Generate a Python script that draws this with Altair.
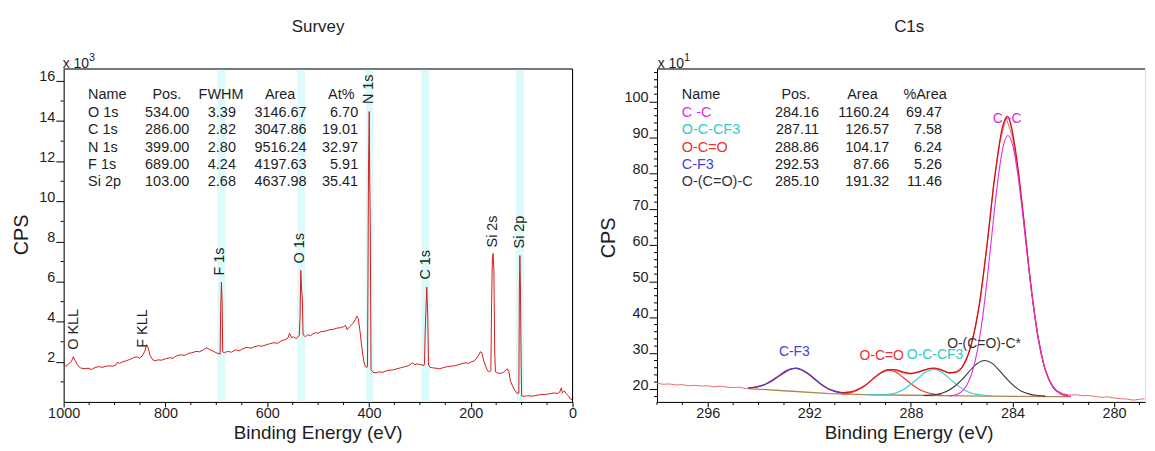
import altair as alt
import pandas as pd

FONT = "Liberation Sans"
TXT = "#1e1e1e"
W1, W2, H = 512, 491, 335

# ---------------- Survey spectrum (CPS x 10^3) ----------------
survey_be = [
    1000, 995, 990, 985, 981, 977, 972, 967, 960, 952,
    945, 938, 930, 924, 917, 910, 903, 897, 894, 890,
    884, 877, 870, 863, 857, 851, 846, 841, 837, 834,
    830, 825, 820, 814, 808, 800, 792, 785, 778, 770,
    762, 755, 748, 740, 733, 725, 719, 714, 708, 700,
    694, 692.5, 691.5, 690, 688.5, 687.5, 684, 678, 670, 662,
    655, 648, 640, 632, 625, 617, 610, 602, 595, 587,
    580, 572, 565, 559, 556, 552, 548, 543, 539, 537,
    535.5, 534, 532.5, 531, 529.5, 525, 520, 515, 510, 505,
    500, 495, 489, 483, 477, 470, 463, 456, 450, 446,
    443, 438, 432, 427, 424, 421, 418, 414, 410, 407,
    404, 403, 402, 401, 399.5, 398.5, 397.5, 396, 392, 386,
    380, 373, 366, 360, 352, 345, 338, 330, 323, 317,
    314, 310, 305, 298, 292, 291, 289.5, 286.5, 284.5, 283,
    280, 275, 268, 262, 255, 248, 240, 232, 225, 218,
    211, 204, 199, 193, 188, 184, 181, 178, 175, 171,
    167, 163, 160.5, 159, 157.5, 156, 154.5, 153, 151.5, 148,
    143, 138, 134, 131, 128, 125, 122, 118, 114, 110,
    106, 105.5, 104.5, 103.5, 102.5, 101, 100, 96, 90, 84,
    78, 72, 66, 60, 54, 48, 42, 36, 30, 25,
    22, 20, 16, 12, 8, 4, 0,
]
survey_cps = [
    1.85, 1.78, 1.90, 2.00, 2.25, 2.05, 1.80, 1.70, 1.65, 1.68,
    1.62, 1.72, 1.76, 1.72, 1.78, 1.80, 1.78, 1.85, 1.98, 1.92,
    2.00, 2.05, 2.12, 2.20, 2.25, 2.18, 2.28, 2.50, 2.85, 2.70,
    2.30, 2.10, 2.05, 2.10, 2.08, 2.15, 2.20, 2.18, 2.30, 2.35,
    2.32, 2.42, 2.45, 2.52, 2.50, 2.60, 2.70, 2.62, 2.55, 2.45,
    2.40, 2.38, 4.55, 5.97, 4.90, 2.50, 2.45, 2.52, 2.48, 2.60,
    2.55, 2.65, 2.72, 2.68, 2.75, 2.80, 2.78, 2.85, 2.90, 2.95,
    2.92, 3.05, 3.10, 3.20, 3.42, 3.20, 3.25, 3.15, 3.28, 3.30,
    4.20, 6.56, 5.60, 5.20, 3.35, 3.25, 3.35, 3.30, 3.40, 3.45,
    3.42, 3.50, 3.52, 3.55, 3.60, 3.62, 3.68, 3.70, 3.75, 3.82,
    3.60, 3.75, 3.90, 4.10, 4.28, 4.15, 3.60, 2.70, 2.00, 1.75,
    1.72, 1.75, 5.90, 11.45, 14.48, 11.00, 9.00, 1.60, 1.48, 1.45,
    1.50, 1.48, 1.55, 1.58, 1.60, 1.65, 1.70, 1.75, 1.80, 1.90,
    1.95, 1.85, 1.90, 1.85, 1.82, 1.90, 3.50, 5.72, 4.30, 1.85,
    1.72, 1.70, 1.68, 1.65, 1.70, 1.75, 1.78, 1.80, 1.85, 1.90,
    1.95, 1.92, 2.00, 2.05, 2.20, 2.35, 2.50, 2.45, 2.10, 1.80,
    1.55, 1.50, 1.55, 5.00, 7.20, 7.40, 6.50, 2.60, 1.50, 1.45,
    1.42, 1.45, 1.50, 1.60, 1.65, 1.50, 1.05, 0.80, 0.60, 0.45,
    0.42, 0.50, 5.50, 7.30, 6.00, 2.00, 0.30, 0.28, 0.30, 0.30,
    0.29, 0.32, 0.35, 0.38, 0.36, 0.40, 0.42, 0.45, 0.42, 0.50,
    0.70, 0.45, 0.55, 0.40, 0.30, 0.15, 0.10,
]

band_lo = [682, 526, 391.5, 281, 95.5]
band_hi = [698, 541, 406, 297, 111.5]

survey_peak_names = ["O KLL", "F KLL", "F 1s", "O 1s", "N 1s", "C 1s", "Si 2s", "Si 2p"]
survey_peak_be = [980, 845, 692.6, 536, 400, 288, 156, 103]
survey_peak_cps = [2.6, 2.7, 6.3, 6.9, 14.85, 6.1, 7.7, 7.65]

survey_tbl_name = ["O 1s", "C 1s", "N 1s", "F 1s", "Si 2p"]
survey_tbl_pos = [534.00, 286.00, 399.00, 689.00, 103.00]
survey_tbl_fwhm = [3.39, 2.82, 2.80, 4.24, 2.68]
survey_tbl_area = [3146.67, 3047.86, 9516.24, 4197.63, 4637.98]
survey_tbl_at = [6.70, 19.01, 32.97, 5.91, 35.41]

survey_x_ticks = [1000, 800, 600, 400, 200, 0]
survey_x_minor = [950, 900, 850, 750, 700, 650, 550, 500, 450, 350, 300, 250, 150, 100, 50]
survey_y_ticks = [2, 4, 6, 8, 10, 12, 14, 16]
survey_y_minor = [1, 3, 5, 7, 9, 11, 13, 15]

# ---------------- C1s high-resolution spectrum (CPS x 10^1) ----------------
raw_be = [
    298.0, 297.75, 297.5, 297.25, 297.0, 296.75, 296.5, 296.25, 296.0, 295.75,
    295.5, 295.25, 295.0, 294.75, 294.5, 294.25, 294.0, 293.75, 293.5, 293.25,
    293.0, 292.75, 292.5, 292.25, 292.0, 291.75, 291.5, 291.25, 291.0, 290.75,
    290.5, 290.25, 290.0, 289.75, 289.5, 289.25, 289.0, 288.75, 288.5, 288.25,
    288.0, 287.75, 287.5, 287.25, 287.0, 286.75, 286.5, 286.25, 286.0, 285.75,
    285.5, 285.25, 285.0, 284.75, 284.5, 284.25, 284.0, 283.75, 283.5, 283.25,
    283.0, 282.75, 282.5, 282.25, 282.0, 281.75, 281.5, 281.25, 281.0, 280.75,
    280.5, 280.25, 280.0, 279.75, 279.5, 279.25, 279.0, 278.8,
]
raw_cps = [
    21.7, 21.4, 21.5, 21.2, 21.3, 21.0, 21.1, 20.9, 21.0, 20.7,
    20.9, 20.6, 20.5, 20.6, 20.2, 20.5, 20.9, 21.3, 22.1, 23.3,
    24.4, 25.5, 25.9, 25.2, 24.2, 22.6, 21.3, 20.0, 19.3, 19.0,
    19.2, 19.5, 20.3, 21.4, 22.8, 24.3, 25.1, 25.6, 25.0, 24.5,
    24.2, 24.9, 25.2, 25.8, 25.6, 25.2, 24.5, 24.9, 26.0, 29.5,
    36.0, 45.5, 60.0, 76.5, 88.5, 95.5, 90.0, 79.8, 64.0, 47.0,
    35.0, 26.2, 21.8, 19.6, 18.8, 18.4, 18.5, 18.2, 18.3, 18.0,
    17.8, 17.9, 17.6, 17.4, 17.3, 17.0, 17.2, 17.4,
]

env_be = [
    294.4, 294.0, 293.6, 293.2, 292.8, 292.53, 292.2, 291.9, 291.6, 291.3,
    291.0, 290.7, 290.4, 290.1, 289.8, 289.5, 289.2, 288.9, 288.6, 288.3,
    288.0, 287.7, 287.4, 287.1, 286.8, 286.5, 286.2, 285.9, 285.6, 285.3,
    285.0, 284.7, 284.4, 284.2, 283.9, 283.6, 283.3, 283.0, 282.7, 282.4,
    282.1, 281.8,
]
env_cps = [
    20.4, 20.75, 21.9, 23.7, 25.45, 25.8, 25.0, 23.45, 21.7, 20.3,
    19.5, 19.1, 19.2, 19.9, 21.1, 22.9, 24.5, 25.45, 25.4, 24.8,
    24.45, 24.8, 25.55, 25.9, 25.4, 24.6, 24.8, 27.1, 33.0, 43.9,
    60.3, 78.9, 92.6, 95.8, 87.3, 70.0, 50.4, 34.8, 25.25, 20.55,
    18.75, 18.2,
]

bg_be = [294.4, 293.0, 291.2, 289.8, 288.0, 286.0, 284.0, 282.6, 281.7]
bg_cps = [20.2, 19.6, 18.8, 18.5, 18.35, 18.2, 18.05, 18.0, 17.95]

cf3_be = [294.4, 294.1, 293.8, 293.5, 293.2, 292.9, 292.53, 292.2, 291.9, 291.6, 291.3, 291.0, 290.7]
cf3_cps = [20.4, 20.6, 21.2, 22.3, 23.8, 25.2, 25.9, 25.1, 23.6, 21.8, 20.4, 19.5, 18.96]

oco_be = [290.7, 290.4, 290.1, 289.8, 289.5, 289.2, 288.86, 288.6, 288.3, 288.0, 287.7, 287.4, 287.1, 286.8]
oco_cps = [18.67, 19.0, 19.8, 21.1, 22.9, 24.5, 25.3, 24.8, 23.3, 21.55, 20.1, 19.2, 18.7, 18.5]

occf3_be = [289.8, 289.2, 288.9, 288.6, 288.3, 288.0, 287.7, 287.4, 287.11, 286.8,
            286.5, 286.2, 285.9, 285.6, 285.3, 285.0, 284.8]
occf3_cps = [18.5, 18.45, 18.6, 19.0, 19.9, 21.4, 23.2, 24.9, 25.5, 24.8,
             23.1, 21.3, 19.8, 18.9, 18.5, 18.3, 18.2]

ococ_be = [287.5, 287.2, 286.9, 286.6, 286.3, 286.0, 285.7, 285.4, 285.1, 284.8,
           284.5, 284.2, 283.9, 283.6, 283.3, 283.0, 282.7]
ococ_cps = [18.3, 18.4, 18.7, 19.4, 20.7, 22.6, 25.0, 27.1, 28.0, 27.2,
            25.1, 22.7, 20.7, 19.3, 18.6, 18.3, 18.1]

cc_be = [286.48, 286.18, 285.98, 285.78, 285.58, 285.38, 285.18, 284.98, 284.78, 284.58,
         284.38, 284.18, 283.98, 283.78, 283.58, 283.38, 283.18, 282.98, 282.78, 282.58,
         282.38, 282.18, 281.98, 281.7]
cc_cps = [18.1, 18.6, 19.5, 21.4, 24.9, 30.9, 39.8, 51.6, 65.1, 77.8,
          87.1, 90.5, 87.5, 79.2, 67.6, 54.9, 43.2, 33.9, 27.2, 22.9,
          20.4, 19.1, 18.45, 18.05]

C_CC, C_CY, C_RD, C_BL, C_BK = "#e02ee0", "#2ccccc", "#ee3030", "#4444e0", "#333333"

c1s_peak_names = ["C -C", "O-C-CF3", "O-C=O", "C-F3", "O-(C=O)-C*"]
c1s_peak_be = [284.21, 287.05, 289.15, 292.59, 285.12]
c1s_peak_cps = [95.0, 29.4, 29.2, 30.4, 32.5]
c1s_peak_colors = [C_CC, C_CY, C_RD, C_BL, C_BK]

c1s_tbl_name = ["C -C", "O-C-CF3", "O-C=O", "C-F3", "O-(C=O)-C"]
c1s_tbl_pos = [284.16, 287.11, 288.86, 292.53, 285.10]
c1s_tbl_area = [1160.24, 126.57, 104.17, 87.66, 191.32]
c1s_tbl_pct = [69.47, 7.58, 6.24, 5.26, 11.46]
c1s_tbl_colors = [C_CC, C_CY, C_RD, C_BL, C_BK]

c1s_x_ticks = [296, 292, 288, 284, 280]
c1s_x_minor = [298, 297, 295, 294, 293, 291, 290, 289, 287, 286, 285, 283, 282, 281, 279]
c1s_y_ticks = [20, 30, 40, 50, 60, 70, 80, 90, 100]
c1s_y_minor = [18, 22, 24, 26, 28, 32, 34, 36, 38, 42, 44, 46, 48, 52, 54, 56, 58,
               62, 64, 66, 68, 72, 74, 76, 78, 82, 84, 86, 88, 92, 94, 96, 98,
               102, 104, 106, 108]


# ---------------- helpers ----------------
def single():
    return pd.DataFrame({"k": [0]})


def txt(text, x, y, size=14.5, align="left", baseline="alphabetic", color=TXT,
        angle=None, line_height=None):
    props = dict(text=text, align=align, baseline=baseline, fontSize=size,
                 font=FONT, color=color)
    if angle is not None:
        props["angle"] = angle
    if line_height is not None:
        props["lineHeight"] = line_height
    return alt.Chart(single()).mark_text(**props).encode(x=alt.value(x), y=alt.value(y))


def axis_x(values):
    return alt.Axis(values=values, title=None, grid=False, tickSize=5, labelPadding=0,
                    labelFont=FONT, labelFontSize=14.5, labelColor=TXT, labelFlush=False,
                    labelOverlap=False, domainColor="black", tickColor="black",
                    domainWidth=1, format="d")


def axis_y(values):
    return alt.Axis(values=values, title=None, grid=False, tickSize=8, labelPadding=1,
                    labelBaseline="alphabetic", labelFont=FONT, labelFontSize=14.5,
                    labelColor=TXT, labelFlush=False, labelOverlap=False,
                    domainColor="black", tickColor="black", domainWidth=1, format="d")


def line(be, cps, sx, sy, ax, ay, color, width=1.0, interp="linear"):
    df = pd.DataFrame({"be": be, "cps": cps})
    return alt.Chart(df).mark_line(color=color, strokeWidth=width, interpolate=interp).encode(
        x=alt.X("be:Q", scale=sx, axis=ax),
        y=alt.Y("cps:Q", scale=sy, axis=ay),
    )


def minor_ticks(xv, yv, sx, sy, ax, ay):
    mx = alt.Chart(pd.DataFrame({"v": xv})).mark_rule(color="black", strokeWidth=1).encode(
        x=alt.X("v:Q", scale=sx, axis=ax), y=alt.value(H), y2=alt.value(H + 3))
    my = alt.Chart(pd.DataFrame({"v": yv})).mark_rule(color="black", strokeWidth=1).encode(
        y=alt.Y("v:Q", scale=sy, axis=ay), x=alt.value(-3), x2=alt.value(0))
    return [mx, my]


ROW0 = 19.7   # top of header line (relative to plot top)
LH = 17.5
XT_Y = 372    # baseline of the x-axis titles (relative to plot top)

# ---------------- Survey panel ----------------
sx1 = alt.Scale(domain=[0, 1000], reverse=True, nice=False, zero=False)
sy1 = alt.Scale(domain=[0, 16.6], nice=False, zero=False)
ax1 = axis_x(survey_x_ticks)
ay1 = axis_y(survey_y_ticks)

bands = alt.Chart(pd.DataFrame({"lo": band_lo, "hi": band_hi})).mark_rect(
    color="#dcfafa").encode(x=alt.X("lo:Q", scale=sx1, axis=ax1), x2="hi:Q")

survey_line = line(survey_be, survey_cps, sx1, sy1, ax1, ay1, "#d41c1c", 1.0)

survey_labels = alt.Chart(pd.DataFrame({
    "name": survey_peak_names, "be": survey_peak_be, "cps": survey_peak_cps})).mark_text(
    angle=270, align="left", baseline="middle", fontSize=14.5, font=FONT, color=TXT).encode(
    x=alt.X("be:Q", scale=sx1, axis=ax1), y=alt.Y("cps:Q", scale=sy1, axis=ay1), text="name:N")

anchor = alt.Chart(single()).mark_rule(opacity=0).encode(
    x=alt.value(-55), x2=alt.value(-54.5), y=alt.value(-59), y2=alt.value(-58.5))

frame_top1 = alt.Chart(single()).mark_rule(color="black", strokeWidth=1).encode(y=alt.value(0))
frame_right1 = alt.Chart(single()).mark_rule(color="black", strokeWidth=1).encode(x=alt.value(W1))

left_layers = [anchor, bands, survey_line] + minor_ticks(
    survey_x_minor, survey_y_minor, sx1, sy1, ax1, ay1) + [frame_top1, frame_right1, survey_labels]

left_layers += [
    txt(["Name"] + survey_tbl_name, 24.6, ROW0, baseline="top", line_height=LH),
    txt("Pos.", 103.8, ROW0, align="center", baseline="top"),
    txt("FWHM", 158.3, ROW0, align="center", baseline="top"),
    txt("Area", 217.8, ROW0, align="center", baseline="top"),
    txt("At%", 279.3, ROW0, align="center", baseline="top"),
    txt([f"{v:.2f}" for v in survey_tbl_pos], 126.3, ROW0 + LH, align="right", baseline="top", line_height=LH),
    txt([f"{v:.2f}" for v in survey_tbl_fwhm], 173.3, ROW0 + LH, align="right", baseline="top", line_height=LH),
    txt([f"{v:.2f}" for v in survey_tbl_area], 244.3, ROW0 + LH, align="right", baseline="top", line_height=LH),
    txt([f"{v:.2f}" for v in survey_tbl_at], 296.3, ROW0 + LH, align="right", baseline="top", line_height=LH),
    txt("Survey", 256, -42, size=17, align="center", baseline="middle"),
    txt("x 10", -1, -1, size=14),
    txt("3", 25.5, -8, size=11),
    txt("CPS", -41.7, 167, size=20, align="center", baseline="middle", angle=270),
    txt("Binding Energy (eV)", 256, XT_Y, size=19, align="center"),
]

left = alt.layer(*left_layers).properties(width=W1, height=H)

# ---------------- C1s panel ----------------
sx2 = alt.Scale(domain=[278.78, 298], reverse=True, nice=False, zero=False)
sy2 = alt.Scale(domain=[16.5, 109.0], nice=False, zero=False)
ax2 = axis_x(c1s_x_ticks)
ay2 = axis_y(c1s_y_ticks)

frame_top2 = alt.Chart(single()).mark_rule(color="black", strokeWidth=1).encode(y=alt.value(0))

right_layers = [
    line(raw_be, raw_cps, sx2, sy2, ax2, ay2, "#ea6b6b", 1.0),
    line(bg_be, bg_cps, sx2, sy2, ax2, ay2, "#b5844e", 1.3),
    line(env_be, env_cps, sx2, sy2, ax2, ay2, "#d41010", 1.3, "monotone"),
    line(cf3_be, cf3_cps, sx2, sy2, ax2, ay2, C_BL, 1.1, "monotone"),
    line(oco_be, oco_cps, sx2, sy2, ax2, ay2, C_RD, 1.1, "monotone"),
    line(occf3_be, occf3_cps, sx2, sy2, ax2, ay2, C_CY, 1.1, "monotone"),
    line(ococ_be, ococ_cps, sx2, sy2, ax2, ay2, C_BK, 1.1, "monotone"),
    line(cc_be, cc_cps, sx2, sy2, ax2, ay2, C_CC, 1.1, "monotone"),
] + minor_ticks(c1s_x_minor, c1s_y_minor, sx2, sy2, ax2, ay2) + [frame_top2]

c1s_labels = alt.Chart(pd.DataFrame({
    "name": c1s_peak_names, "be": c1s_peak_be, "cps": c1s_peak_cps,
    "col": c1s_peak_colors})).mark_text(
    align="center", baseline="middle", fontSize=14, font=FONT).encode(
    x=alt.X("be:Q", scale=sx2, axis=ax2), y=alt.Y("cps:Q", scale=sy2, axis=ay2),
    text="name:N", color=alt.Color("col:N", scale=None))
right_layers.append(c1s_labels)

right_layers.append(txt("Name", 24.9, ROW0, baseline="top"))
for i, (nm, col) in enumerate(zip(c1s_tbl_name, c1s_tbl_colors)):
    right_layers.append(txt(nm, 24.9, ROW0 + LH * (i + 1), baseline="top", color=col))
right_layers += [
    txt("Pos.", 139.7, ROW0, align="center", baseline="top"),
    txt("Area", 206.7, ROW0, align="center", baseline="top"),
    txt("%Area", 269.7, ROW0, align="center", baseline="top"),
    txt([f"{v:.2f}" for v in c1s_tbl_pos], 163, ROW0 + LH, align="right", baseline="top", line_height=LH),
    txt([f"{v:.2f}" for v in c1s_tbl_area], 233.7, ROW0 + LH, align="right", baseline="top", line_height=LH),
    txt([f"{v:.2f}" for v in c1s_tbl_pct], 286.7, ROW0 + LH, align="right", baseline="top", line_height=LH),
    txt("C1s", 253.7, -42, size=17, align="center", baseline="middle"),
    txt("x 10", 0.7, -1, size=14),
    txt("1", 27.2, -8, size=11),
    txt("CPS", -48.3, 170, size=20, align="center", baseline="middle", angle=270),
    txt("Binding Energy (eV)", 253.7, XT_Y, size=19, align="center"),
]

right = alt.layer(*right_layers).properties(width=W2, height=H)

chart = alt.hconcat(left, right, spacing=85, bounds="flush").properties(
    padding=0
).configure_view(strokeWidth=0).configure(background="white")

chart.save("out.html", embed_options={"renderer": "svg", "actions": False})
